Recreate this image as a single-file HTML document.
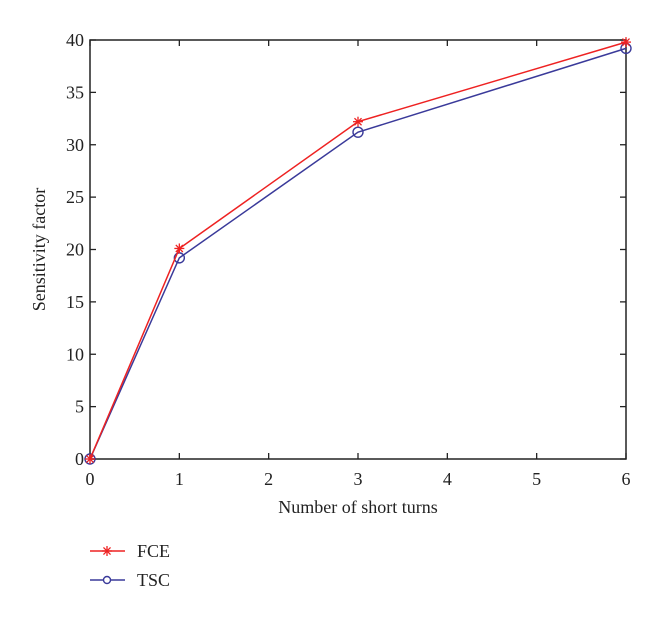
<!DOCTYPE html>
<html><head><meta charset="utf-8"><style>
body{margin:0;background:#fff;}
svg{display:block;font-family:"Liberation Serif",serif;}
</style></head><body>
<svg id="chart" width="660" height="617" xmlns="http://www.w3.org/2000/svg"></svg>
<script>
const categories=[0,1,3,6];
const fceValues=[0,20.1,32.2,39.8];
const tscValues=[0,19.2,31.2,39.2];
const xTicks=[0,1,2,3,4,5,6];
const yTicks=[0,5,10,15,20,25,30,35,40];
const L=90,R=626,T=40,B=459;
const xs=v=>L+(v-0)/(6-0)*(R-L);
const ys=v=>B-(v-0)/(40-0)*(B-T);
const svg=document.getElementById('chart');
const NS='http://www.w3.org/2000/svg';
function mk(tag,attrs,parent){const e=document.createElementNS(NS,tag);for(const k in attrs)e.setAttribute(k,attrs[k]);(parent||svg).appendChild(e);return e;}
const frame=mk('rect',{x:L,y:T,width:R-L,height:B-T,fill:'none',stroke:'#222','stroke-width':1.5});


xTicks.forEach(t=>{
  const x=xs(t);
  const g=mk('g',{});
  
  
  mk('line',{x1:x,y1:B,x2:x,y2:B-6,stroke:'#222','stroke-width':1.3},g);
  mk('line',{x1:x,y1:T,x2:x,y2:T+6,stroke:'#222','stroke-width':1.3},g);
  const tx=mk('text',{x:x,y:B+26,'text-anchor':'middle','font-size':18,fill:'#222'},g);tx.textContent=t;
});
yTicks.forEach(t=>{
  const y=ys(t);
  const g=mk('g',{});
  
  
  mk('line',{x1:L,y1:y,x2:L+6,y2:y,stroke:'#222','stroke-width':1.3},g);
  mk('line',{x1:R,y1:y,x2:R-6,y2:y,stroke:'#222','stroke-width':1.3},g);
  const tx=mk('text',{x:L-6,y:y+6,'text-anchor':'end','font-size':18,fill:'#222'},g);tx.textContent=t;
});
const xt=mk('text',{x:(L+R)/2,y:513,'text-anchor':'middle','font-size':18,fill:'#222'});xt.textContent='Number of short turns';


const yt=mk('text',{x:0,y:0,'text-anchor':'middle','font-size':18,fill:'#222',transform:'translate(45,'+((T+B)/2)+') rotate(-90)'});yt.textContent='Sensitivity factor';


function star(g,x,y,c){
  for(let a=0;a<180;a+=45){const r=a*Math.PI/180,d=5;mk('line',{x1:x-d*Math.cos(r),y1:y-d*Math.sin(r),x2:x+d*Math.cos(r),y2:y+d*Math.sin(r),stroke:c,'stroke-width':1.3},g);}
}
const tsc=mk('g',{});


mk('polyline',{points:categories.map((c,i)=>xs(c)+','+ys(tscValues[i])).join(' '),fill:'none',stroke:'#3a3a9a','stroke-width':1.5},tsc);
categories.forEach((c,i)=>{const m=mk('circle',{cx:xs(c),cy:ys(tscValues[i]),r:5,fill:'none',stroke:'#3a3a9a','stroke-width':1.4},tsc);

});
const fce=mk('g',{});


mk('polyline',{points:categories.map((c,i)=>xs(c)+','+ys(fceValues[i])).join(' '),fill:'none',stroke:'#ee2222','stroke-width':1.5},fce);
categories.forEach((c,i)=>star(fce,xs(c),ys(fceValues[i]),'#ee2222'));
const lg1=mk('g',{});


mk('line',{x1:90,y1:551,x2:125,y2:551,stroke:'#ee2222','stroke-width':1.5},lg1);
star(lg1,107,551,'#ee2222');
const t1=mk('text',{x:137,y:557,'font-size':18,fill:'#222'},lg1);t1.textContent='FCE';
const lg2=mk('g',{});


mk('line',{x1:90,y1:580,x2:125,y2:580,stroke:'#3a3a9a','stroke-width':1.5},lg2);
mk('circle',{cx:107,cy:580,r:3.5,fill:'#fff',stroke:'#3a3a9a','stroke-width':1.4},lg2);
const t2=mk('text',{x:137,y:586,'font-size':18,fill:'#222'},lg2);t2.textContent='TSC';
</script>
</body></html>
